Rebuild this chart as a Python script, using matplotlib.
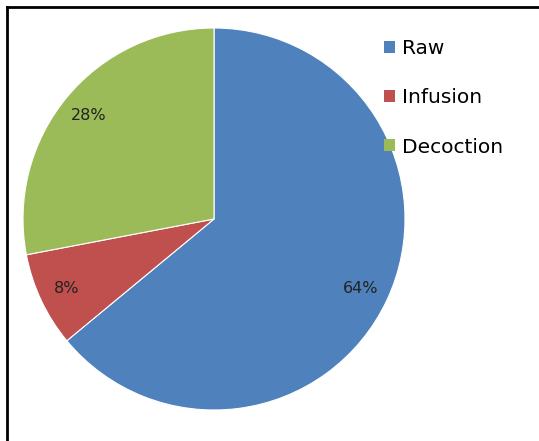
import matplotlib
matplotlib.use("Agg")
import matplotlib.pyplot as plt
from matplotlib.lines import Line2D
from matplotlib.patches import Patch

categories = ["Raw", "Infusion", "Decoction"]
shares = [64, 8, 28]
colors = ["#4F81BD", "#C0504D", "#9BBB59"]

W, H = 539, 441
fig = plt.figure(figsize=(W / 100, H / 100), dpi=100)

# pie centred at (214, 219) px, radius 191 px
cx, cy, r = 214, 219, 191
ax = fig.add_axes([(cx - r) / W, (H - cy - r) / H, 2 * r / W, 2 * r / H])
ax.pie(shares, colors=colors, startangle=90, counterclock=False,
       autopct="%d%%", pctdistance=0.85, radius=1,
       wedgeprops=dict(edgecolor="white", linewidth=0.8),
       textprops=dict(fontsize=11.5, color="#222222"))
ax.set_xlim(-1, 1)
ax.set_ylim(-1, 1)
ax.set_aspect("equal")

handles = [Patch(facecolor=c, edgecolor="none") for c in colors]
fig.legend(handles, categories, loc="upper left",
           bbox_to_anchor=(366 / W, 1 - 21 / H), frameon=False,
           fontsize=14.5, handlelength=0.55, handleheight=0.55,
           handletextpad=0.35, labelspacing=1.5)

# frame lines on the left and top
fig.add_artist(Line2D([7 / W, 7 / W], [0, 1 - 7 / H], color="black", linewidth=2))
fig.add_artist(Line2D([7 / W, 1], [1 - 7 / H, 1 - 7 / H], color="black", linewidth=2))

fig.savefig("out.png", dpi=100)
